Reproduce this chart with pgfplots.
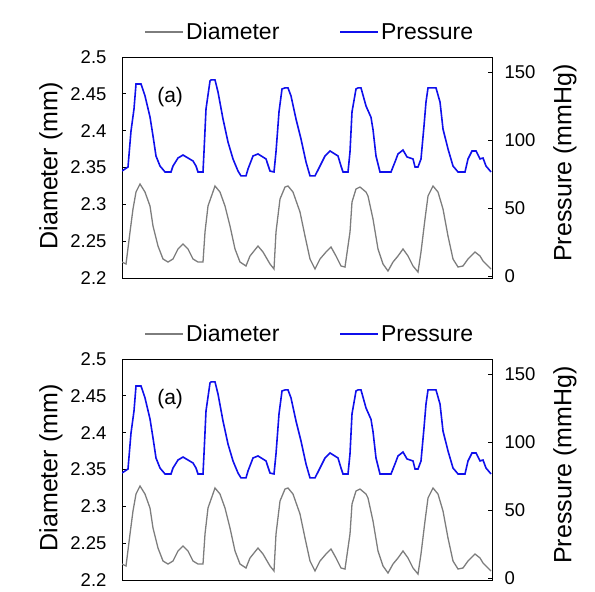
\documentclass[border=0pt]{standalone}
\usepackage{pgfplots}
\pgfplotsset{compat=1.18}
\usepackage{pgfplotstable}
\usepackage{fontspec}
\setmainfont{Liberation Sans}

\definecolor{pblue}{RGB}{15,15,235}
\definecolor{dgray}{RGB}{125,125,125}

% diameter trace (mm)
\pgfplotstableread{
t d
0 2.2217
4 2.2190
8 2.2624
11 2.2937
14 2.3167
18 2.3276
23 2.3167
28 2.2977
31 2.2706
36 2.2434
41 2.2258
46 2.2217
51 2.2258
56 2.2394
61 2.2462
66 2.2394
71 2.2258
76 2.2217
81 2.2217
83 2.2624
86 2.2977
93 2.3249
98 2.3167
103 2.2977
108 2.2706
113 2.2394
118 2.2217
124 2.2163
128 2.2299
136 2.2434
141 2.2353
148 2.2190
152 2.2122
154 2.2624
158 2.3072
163 2.3235
166 2.3249
171 2.3167
178 2.2896
183 2.2570
188 2.2258
193 2.2122
198 2.2258
204 2.2353
209 2.2421
214 2.2299
219 2.2163
223 2.2149
228 2.2624
230 2.3032
234 2.3208
238 2.3235
244 2.3167
246 2.3113
251 2.2801
256 2.2394
261 2.2190
266 2.2095
271 2.2217
276 2.2299
281 2.2394
286 2.2299
291 2.2163
296 2.2081
299 2.2353
303 2.2801
306 2.3113
311 2.3249
316 2.3167
321 2.2937
326 2.2570
331 2.2258
336 2.2149
341 2.2163
346 2.2258
353 2.2353
358 2.2299
361 2.2231
366 2.2163
369 2.2122
}\diam

% pressure trace (mmHg)
\pgfplotstableread{
t p
0 77.4
6 80.4
9 106.9
12 123.2
14 141.6
19 141.6
23 132.8
28 117.3
31 103.3
34 88.5
38 81.1
43 76.7
49 76.7
51 81.1
56 87.0
61 89.2
66 87.0
71 84.8
74 81.1
76 76.7
81 76.7
82 91.5
84 123.2
88 143.8
89 144.6
93 144.6
96 135.7
101 115.8
106 98.8
111 86.3
116 77.4
119 73.8
124 73.8
126 78.9
131 88.5
136 90.0
144 86.3
148 77.4
152 76.7
154 91.5
157 121.0
160 137.9
163 138.7
166 138.7
169 132.8
174 115.8
179 101.0
184 84.1
188 73.8
193 73.8
198 81.1
203 88.5
208 92.2
216 88.5
219 81.1
221 76.7
226 76.7
228 91.5
230 121.0
234 137.9
236 138.7
239 138.7
244 125.4
249 117.0
251 108.0
254 88.5
258 76.7
269 76.7
273 84.1
276 90.0
281 92.9
285 87.8
291 86.3
293 80.4
296 80.4
299 86.3
302 110.6
304 128.3
306 138.7
314 138.7
318 128.3
321 108.4
326 93.7
331 81.1
336 76.7
343 76.7
346 86.3
350 92.2
354 92.2
358 86.3
361 87.0
364 81.1
369 76.7
}\press

\pgfplotsset{
  panel/.style={
    scale only axis, width=370pt, height=221pt,
    xmin=0, xmax=370, xtick=\empty,
    tick align=inside, major tick length=4pt,
    axis line style={line width=0.9pt},
    every tick/.style={black, line width=0.8pt},
    /pgf/number format/assume math mode=true,
  },
  legend image code/.code={\draw[#1] (0pt,0pt) -- (38pt,0pt);},
}

\newcommand{\panel}[1]{%
  \begin{axis}[panel, at={(122pt,#1)}, anchor=south west,
    ymin=2.2, ymax=2.5, ytick pos=left,
    ytick={2.2,2.25,2.3,2.35,2.4,2.45,2.5},
    yticklabels={2.2,2.25,2.3,2.35,2.4,2.45,2.5},
    yticklabel style={font=\fontsize{18.5}{18.5}\selectfont, xshift=-12pt},
    ylabel={Diameter (mm)},
    ylabel style={font=\fontsize{25}{25}\selectfont, at={(rel axis cs:-0.192,0.507)}, anchor=center}]
    \addplot[dgray, line width=1.3pt] table[x=t, y=d] {\diam};
    \node[font=\fontsize{21}{21}\selectfont] at (rel axis cs:0.13,0.82) {(a)};
  \end{axis}
  \begin{axis}[panel, at={(122pt,#1)}, anchor=south west,
    axis x line=none, axis y line*=right,
    ymin=-1.5, ymax=161.5, ytick={0,50,100,150},
    yticklabel style={font=\fontsize{18.5}{18.5}\selectfont, xshift=9pt},
    ylabel={Pressure (mmHg)},
    ylabel style={font=\fontsize{25}{25}\selectfont, at={(rel axis cs:1.197,0.52)}, anchor=center, rotate=0},
    legend columns=2,
    legend style={draw=none, fill=none, at={(0.508,1.113)}, anchor=center,
      font=\fontsize{23}{23}\selectfont,
      /tikz/every even column/.append style={column sep=58pt}}]
    \addlegendimage{dgray, line width=1.3pt}
    \addlegendentry{Diameter}
    \addplot[pblue, line width=1.6pt] table[x=t, y=p] {\press};
    \addlegendentry{Pressure}
  \end{axis}}

\begin{document}
\begin{tikzpicture}
  \path[use as bounding box] (0pt,0pt) rectangle (595pt,-592pt);
  \panel{-278pt}
  \panel{-580pt}
\end{tikzpicture}
\end{document}
